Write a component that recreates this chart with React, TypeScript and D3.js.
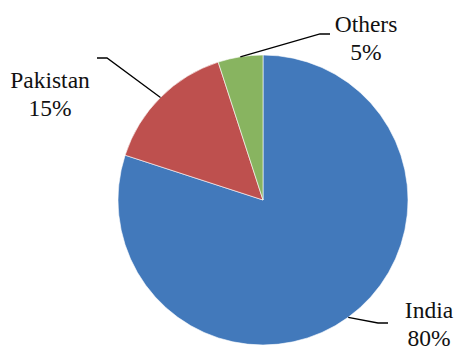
import React from "react";
import * as d3 from "d3";

const categories = ["India", "Pakistan", "Others"];
const values = [80, 15, 5];
const percentLabels = ["80%", "15%", "5%"];
const colors = ["#4279BB", "#BE504E", "#88B460"];

const W = 456, H = 351;
const cx = 263, cy = 200, R = 145;

// label placement (anchor points for text and leader line ends)
const labelPos = [
  { x: 429, y: 318, line: [[378, 323], [388, 323]] },
  { x: 50, y: 88, line: [[107, 58], [97, 58]] },
  { x: 366, y: 32, line: [[320, 34], [330, 34]] },
];

export default function App() {
  const pie = d3.pie<number>().sort(null).startAngle(0).endAngle(2 * Math.PI);
  const arcs = pie(values);
  const arc = d3.arc<d3.PieArcDatum<number>>().innerRadius(0).outerRadius(R);
  const fontSize = 23.5;
  const ff = "'Liberation Serif', 'Times New Roman', Times, serif";
  return (
    <svg width={W} height={H} style={{ position: "absolute", left: 0, top: 0 }}>
      <rect width={W} height={H} fill="#fff" />
      <g transform={`translate(${cx},${cy})`}>
        {arcs.map((a, i) => (
          <path key={i} d={arc(a) || ""} fill={colors[i]} stroke="#fff" strokeWidth={0.6} />
        ))}
      </g>
      {arcs.map((a, i) => {
        const ang = (a.startAngle + a.endAngle) / 2;
        const px = cx + Math.sin(ang) * R;
        const py = cy - Math.cos(ang) * R;
        const lp = labelPos[i];
        const pts = [[px, py], ...lp.line];
        return (
          <g key={i}>
            <polyline
              points={pts.map((p) => p.join(",")).join(" ")}
              fill="none"
              stroke="#000"
              strokeWidth={1.3}
            />
            <text
              x={lp.x}
              y={lp.y}
              textAnchor="middle"
              fontFamily={ff}
              fontSize={fontSize}
              fill="#111"
            >
              <tspan x={lp.x}>{categories[i]}</tspan>
              <tspan x={lp.x} dy={27.5}>{percentLabels[i]}</tspan>
            </text>
          </g>
        );
      })}
    </svg>
  );
}
